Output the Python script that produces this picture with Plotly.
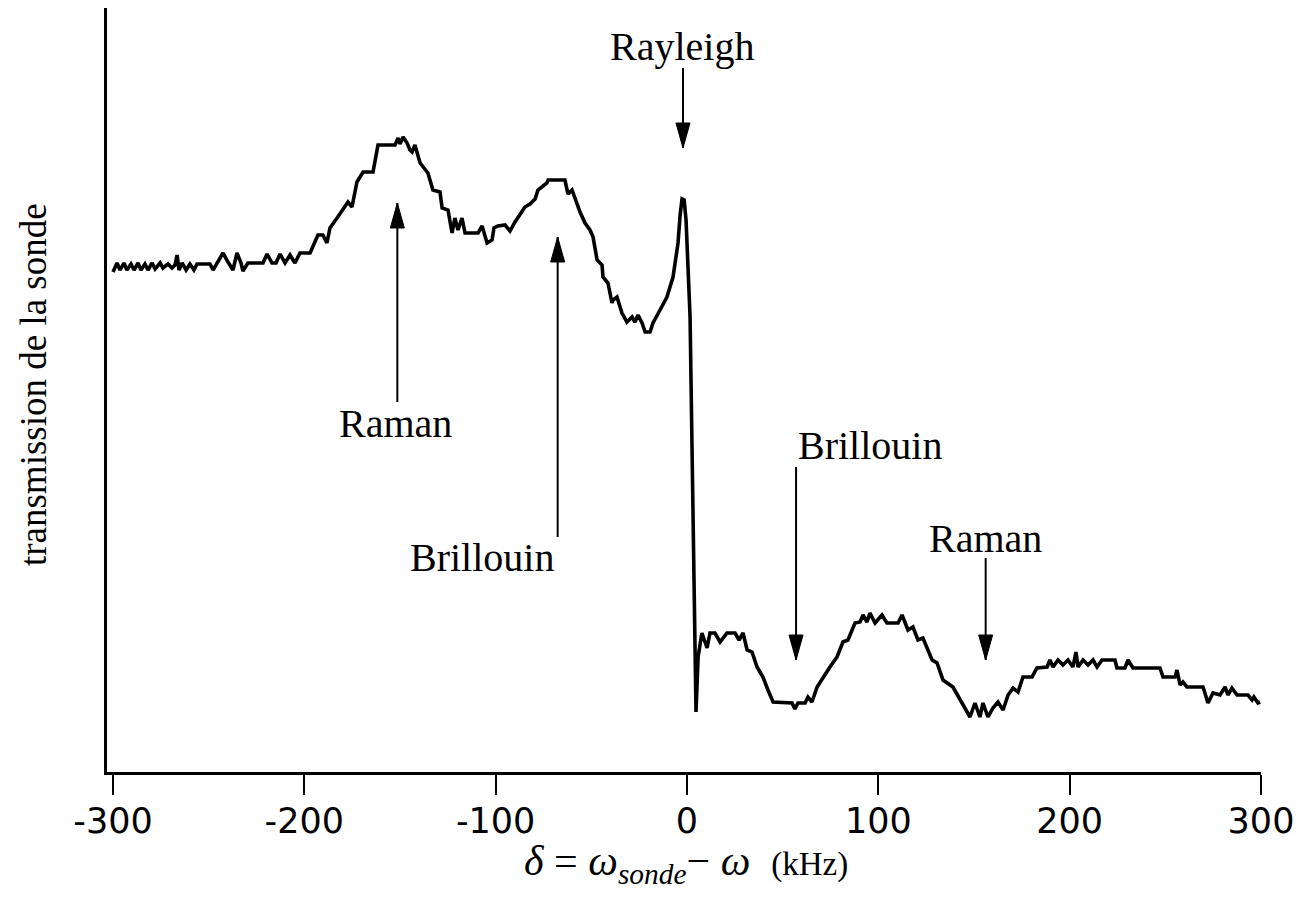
import plotly.graph_objects as go

# detuning delta (kHz) and probe transmission (arbitrary units)
delta_khz = [
    -300.0, -297.9, -296.3, -294.3, -292.7, -290.6, -289.0, -286.9, -285.4, -283.3,
    -281.7, -279.6, -278.0, -275.4, -273.9, -271.3, -269.2, -267.6, -266.5, -265.5,
    -263.9, -261.8, -259.8, -257.7, -256.1, -249.3, -247.7, -245.1, -242.5, -239.9,
    -237.3, -235.2, -233.1, -232.1, -229.5, -221.6, -219.5, -216.9, -214.8, -212.7,
    -210.1, -207.5, -204.9, -202.3, -197.0, -192.9, -190.3, -188.2, -186.6, -182.9,
    -179.8, -177.2, -175.1, -172.5, -169.3, -164.1, -161.5, -152.6, -151.0, -150.0,
    -148.4, -146.3, -144.8, -143.7, -142.2, -139.5, -135.4, -132.8, -129.1, -128.0,
    -124.9, -122.8, -121.3, -119.7, -117.6, -116.0, -109.2, -107.1, -104.5, -101.9,
    -100.9, -98.8, -95.1, -92.5, -89.9, -87.3, -84.7, -82.1, -79.4, -77.9,
    -73.2, -72.6, -63.8, -62.2, -60.1, -55.9, -53.3, -50.7, -49.1, -47.0,
    -44.4, -43.9, -41.3, -39.2, -38.7, -36.6, -34.0, -31.4, -28.7, -27.2,
    -25.6, -23.5, -21.9, -19.3, -17.8, -14.1, -10.5, -7.3, -4.7, -3.6,
    -2.6, -1.5, -0.5, 1.6, 3.1, 4.2, 4.7, 5.8, 7.8, 10.5,
    12.0, 14.6, 17.3, 20.9, 25.1, 27.2, 29.3, 31.4, 34.0, 36.6,
    39.7, 42.3, 45.0, 54.9, 56.4, 58.0, 61.7, 63.2, 65.3, 68.0,
    71.1, 74.7, 78.4, 81.5, 84.1, 87.8, 90.4, 92.0, 94.1, 95.6,
    98.3, 101.9, 104.5, 110.3, 112.4, 115.5, 118.1, 120.7, 123.3, 125.4,
    128.1, 130.7, 133.8, 139.0, 142.7, 146.3, 147.9, 150.5, 153.1, 154.7,
    157.3, 159.9, 162.5, 165.2, 167.8, 170.4, 173.0, 175.6, 180.3, 182.9,
    188.2, 189.7, 191.3, 193.9, 196.5, 199.1, 201.7, 203.3, 204.4, 207.0,
    209.6, 212.2, 214.3, 216.9, 223.7, 224.7, 228.9, 230.5, 233.1, 247.2,
    248.8, 255.1, 256.1, 257.7, 259.2, 261.3, 269.7, 272.3, 274.9, 278.6,
    281.2, 282.8, 284.8, 287.5, 293.2, 295.3, 296.3, 298.4, 299.5,
]
transmission = [
    49.8, 50.7, 50.0, 50.7, 50.0, 50.6, 50.0, 50.7, 50.0, 50.6,
    50.0, 50.7, 50.1, 50.7, 50.2, 50.6, 50.2, 50.5, 51.5, 50.0,
    50.7, 50.0, 50.6, 50.0, 50.6, 50.6, 50.0, 50.8, 51.7, 50.8,
    50.0, 51.7, 50.7, 49.9, 50.7, 50.7, 51.6, 50.7, 50.7, 51.6,
    50.7, 51.5, 50.7, 51.7, 51.7, 53.5, 53.5, 52.7, 54.2, 55.2,
    56.0, 56.8, 56.3, 58.8, 59.8, 59.8, 62.5, 62.5, 63.2, 62.6,
    63.3, 62.7, 62.0, 61.8, 62.5, 60.7, 59.7, 58.0, 57.8, 56.2,
    56.0, 53.7, 55.2, 54.0, 55.2, 53.7, 53.7, 54.4, 52.7, 53.0,
    54.2, 54.4, 54.5, 53.9, 54.8, 55.6, 56.3, 56.6, 57.1, 58.0,
    58.7, 59.0, 59.0, 57.6, 58.0, 55.8, 54.7, 54.0, 53.3, 51.0,
    50.5, 49.3, 48.7, 46.7, 47.0, 47.3, 45.7, 44.8, 45.3, 44.8,
    45.5, 44.7, 43.8, 43.8, 44.7, 46.0, 47.3, 49.3, 52.7, 55.5,
    57.1, 57.0, 55.0, 45.3, 28.7, 12.0, 5.8, 11.3, 13.7, 12.2,
    13.7, 13.7, 12.8, 13.7, 13.7, 13.0, 13.7, 12.0, 11.8, 10.3,
    9.3, 8.0, 6.8, 6.7, 6.1, 6.7, 6.7, 7.3, 6.8, 8.3,
    9.3, 10.3, 11.3, 12.8, 13.0, 14.7, 14.8, 15.5, 14.8, 15.7,
    14.7, 15.5, 14.7, 14.7, 15.5, 14.0, 14.3, 13.0, 13.2, 12.2,
    11.0, 10.7, 9.0, 8.3, 7.0, 5.8, 5.3, 6.7, 5.3, 6.7,
    5.3, 6.2, 6.8, 6.0, 7.5, 8.2, 7.8, 9.3, 9.3, 10.2,
    10.3, 11.0, 10.3, 11.0, 10.5, 11.0, 10.3, 11.8, 10.3, 11.0,
    10.5, 11.0, 10.3, 11.0, 11.0, 10.2, 10.2, 11.0, 10.2, 10.2,
    9.3, 9.3, 10.0, 8.5, 8.8, 8.3, 8.3, 6.7, 7.7, 7.5,
    8.3, 7.5, 8.2, 7.5, 7.5, 7.0, 7.3, 6.7, 6.8,
]

tick_vals = [-300, -200, -100, 0, 100, 200, 300]
tick_text = ["-300", "-200", "-100", "0", "100", "200", "300"]

# peak labels and their arrows
peak_labels = ["Rayleigh", "Raman", "Brillouin", "Brillouin", "Raman"]
label_x = [-2.6, -152.1, -107.1, 95.6, 155.8]
label_y = [72.4, 34.7, 21.3, 32.5, 23.2]
arrow_x = [-2.1, -151.4, -67.6, 57.0, 156.1]
arrow_tail = [70.2, 36.8, 23.3, 30.3, 21.2]
arrow_tip = [62.2, 56.7, 53.3, 11.0, 11.0]

x_title = "<i>δ</i> = <i>ω</i><sub><i>sonde</i></sub>− <i>ω</i>  <span style='font-size:33px'>(kHz)</span>"
y_title = "transmission de la sonde"

serif = "Liberation Serif, Times New Roman, serif"
sans = "DejaVu Sans, Liberation Sans, Arial, sans-serif"

fig = go.Figure()
fig.add_trace(go.Scatter(
    x=delta_khz, y=transmission, mode="lines",
    line=dict(color="black", width=3.6, shape="linear"),
    showlegend=False, hoverinfo="skip",
))

shapes = []
for ax_, t0, t1 in zip(arrow_x, arrow_tail, arrow_tip):
    shapes.append(dict(type="line", xref="x", yref="y", x0=ax_, x1=ax_, y0=t0, y1=t1,
                       line=dict(color="black", width=2)))
    if t1 < t0:  # pointing down
        path = "M0,0 L-7,25 L7,25 Z"
    else:
        path = "M0,0 L-7,-25 L7,-25 Z"
    shapes.append(dict(type="path", xref="x", yref="y", xsizemode="pixel", ysizemode="pixel",
                       xanchor=ax_, yanchor=t1, path=path,
                       fillcolor="black", line=dict(color="black", width=1)))

annotations = []
for txt, lx, ly in zip(peak_labels, label_x, label_y):
    annotations.append(dict(x=lx, y=ly, xref="x", yref="y", text=txt, showarrow=False,
                            xanchor="center", yanchor="middle",
                            font=dict(family=serif, size=40, color="black")))
annotations.append(dict(x=0.5017, y=-0.1205, xref="paper", yref="paper", text=x_title,
                        showarrow=False, xanchor="center", yanchor="middle",
                        font=dict(family=serif, size=42, color="black")))
annotations.append(dict(x=-0.0641, y=0.5065, xref="paper", yref="paper", text=y_title,
                        showarrow=False, xanchor="center", yanchor="middle", textangle=-90,
                        font=dict(family=serif, size=37, color="black")))

fig.update_layout(
    width=1306, height=891,
    margin=dict(l=99, r=53, t=0, b=127),
    paper_bgcolor="white", plot_bgcolor="white",
    shapes=shapes, annotations=annotations,
    xaxis=dict(range=[-303.14, 300], showgrid=False, zeroline=False,
               showline=True, linecolor="black", linewidth=3,
               ticks="outside", ticklen=20, tickwidth=2, tickcolor="black",
               tickvals=tick_vals, ticktext=tick_text,
               tickfont=dict(family=sans, size=35, color="black"),
               ticklabelstandoff=-4),
    yaxis=dict(range=[-0.2, 76.2], showgrid=False, zeroline=False,
               showline=True, linecolor="black", linewidth=3,
               showticklabels=False, ticks=""),
)

fig.write_html("out.html")
